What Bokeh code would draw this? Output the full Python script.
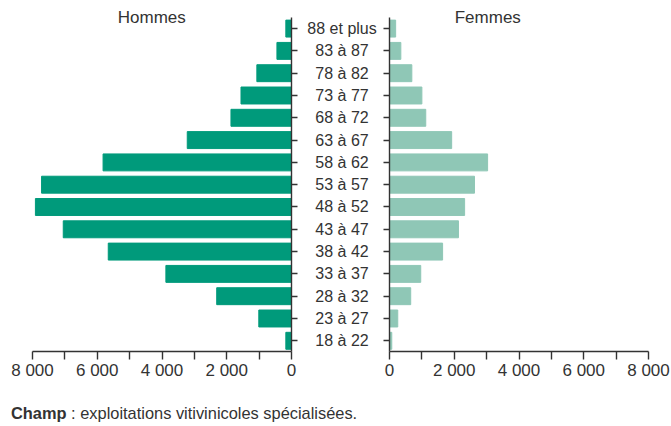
from bokeh.plotting import figure
from bokeh.models import Range1d, LinearAxis, FixedTicker, Label, Div, ColumnDataSource
from bokeh.layouts import row, column
from bokeh.embed import file_html
from bokeh.resources import INLINE
from bokeh.core.properties import value

# ---- data (youngest first) ----
categories = ["18 à 22", "23 à 27", "28 à 32", "33 à 37", "38 à 42", "43 à 47",
              "48 à 52", "53 à 57", "58 à 62", "63 à 67", "68 à 72", "73 à 77",
              "78 à 82", "83 à 87", "88 et plus"]
hommes = [175, 1010, 2310, 3880, 5660, 7050, 7910, 7720, 5820, 3220, 1870, 1560, 1070, 450, 175]
femmes = [70, 255, 655, 965, 1640, 2130, 2320, 2625, 3030, 1920, 1120, 1000, 690, 350, 190]
tick_values = [0, 2000, 4000, 6000, 8000]
tick_labels = ["0", "2 000", "4 000", "6 000", "8 000"]
minor_values = [1000, 3000, 5000, 7000]

DARK = "#009a7b"
LIGHT = "#8fc7b6"
INK = "#333333"
FONT = "Liberation Sans"

idx = list(range(len(categories)))
src = ColumnDataSource(dict(y=idx, cat=categories, h=hommes, f=femmes))

H = 390
yr = Range1d(-0.48, 15.26)


def style_x(p):
    ax = p.xaxis[0]
    ax.ticker = FixedTicker(ticks=tick_values, minor_ticks=minor_values)
    ax.major_label_overrides = dict(zip(tick_values, tick_labels))
    ax.axis_line_color = INK
    ax.axis_line_width = 1.4
    ax.major_tick_line_color = INK
    ax.major_tick_line_width = 1.4
    ax.minor_tick_line_color = INK
    ax.minor_tick_line_width = 1.4
    ax.major_tick_in = 0
    ax.major_tick_out = 8
    ax.minor_tick_in = 0
    ax.minor_tick_out = 8
    ax.major_label_standoff = 1
    ax.major_label_text_font = FONT
    ax.major_label_text_font_size = "17px"
    ax.major_label_text_color = INK


def add_y(p, side):
    ax = LinearAxis(ticker=FixedTicker(ticks=idx, minor_ticks=[]),
                    bounds=(-0.5, 14.5),
                    major_label_overrides={i: "" for i in idx},
                    major_label_standoff=0,
                    major_tick_in=0, major_tick_out=6,
                    minor_tick_in=0, minor_tick_out=0,
                    axis_line_color=INK, axis_line_width=1.4,
                    major_tick_line_color=INK, major_tick_line_width=1.4)
    p.add_layout(ax, side)


common = dict(height=H, y_range=yr, output_backend="svg", toolbar_location=None,
              min_border_top=0, min_border_bottom=39, outline_line_color=None,
              y_axis_location=None, background_fill_color="white", border_fill_color="white")

# left panel (Hommes)
pl = figure(width=301, x_range=Range1d(8000, 0), min_border_left=32, min_border_right=10, **common)
pl.hbar(y="y", left=0, right="h", height=0.76, color=DARK, source=src)
style_x(pl)
add_y(pl, "right")
pl.grid.visible = False
pl.add_layout(Label(x=4315, y=14.5, text="Hommes", text_align="center", text_baseline="middle",
                    text_font=FONT, text_font_size="17px", text_color=INK))

# middle panel (age labels)
pm = figure(width=78, x_range=Range1d(0, 1), min_border_left=0, min_border_right=0,
            x_axis_location=None, **common)
pm.text(x=0.52, y="y", text="cat", source=src, text_align="center", text_baseline="middle",
        text_font=value(FONT), text_font_size=value("16px"), text_color=INK)
pm.grid.visible = False

# right panel (Femmes)
pr = figure(width=292, x_range=Range1d(0, 8000), min_border_left=10, min_border_right=23, **common)
pr.hbar(y="y", left=0, right="f", height=0.76, color=LIGHT, source=src)
style_x(pr)
add_y(pr, "left")
pr.grid.visible = False
pr.add_layout(Label(x=3036, y=14.5, text="Femmes", text_align="center", text_baseline="middle",
                    text_font=FONT, text_font_size="17px", text_color=INK))

footer = Div(text=('<div style="padding-top:8px; padding-left:6px; line-height:20px; '
                   'font-family:\'Liberation Sans\'; font-size:16.4px; color:#333; white-space:nowrap;">'
                   '<span style="font-weight:bold;">Champ</span> : exploitations vitivinicoles spécialisées.</div>'),
             width=671, height=36)

layout = column(row(pl, pm, pr), footer)
open("out.html", "w").write(file_html(layout, INLINE))
